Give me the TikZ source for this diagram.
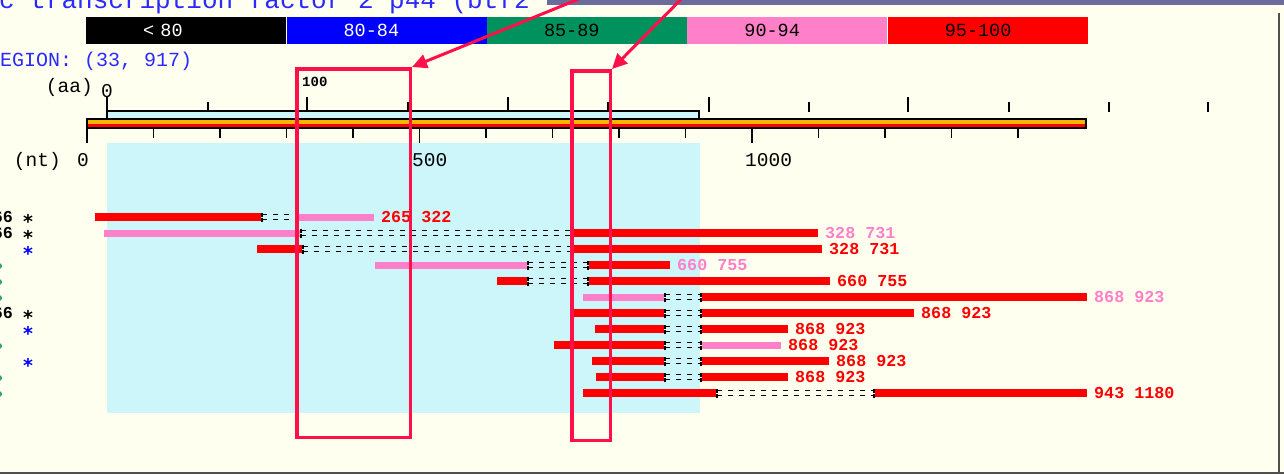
\documentclass[tikz,border=0pt]{standalone}
\usepackage{fontspec}
\setmonofont{Liberation Mono}
\newfontfamily\starfont{DejaVu Sans Mono}
\usetikzlibrary{arrows.meta,positioning}
\definecolor{paper}{HTML}{FFFFF0}
\definecolor{inkblue}{HTML}{2A2AFF}
\definecolor{bandgrey}{HTML}{6C6C9C}
\definecolor{framegrey}{HTML}{505050}
\definecolor{keyblue}{HTML}{0000FF}
\definecolor{keygreen}{HTML}{00925E}
\definecolor{hitpink}{HTML}{FF80C8}
\definecolor{hitred}{HTML}{FF0000}
\definecolor{zonecyan}{HTML}{CDF6FA}
\definecolor{barorange}{HTML}{F8B400}
\definecolor{annored}{HTML}{FF1048}
\definecolor{sidegreen}{HTML}{30A07A}

\begin{document}
\begin{tikzpicture}[x=1pt,y=-1pt,
  keycell/.style={minimum height=27pt,inner xsep=57pt,inner ysep=0pt,text width=86pt,align=left,
    font=\ttfamily\fontsize{18.5}{20}\selectfont},
  axislabel/.style={font=\ttfamily\fontsize{19.5}{20}\selectfont,inner sep=0pt},
  hitlabel/.style={font=\ttfamily\bfseries\fontsize{16.7}{18}\selectfont,inner sep=0pt},
  markstar/.style={font=\starfont\bfseries\fontsize{19}{19}\selectfont,inner sep=0pt,anchor=base,yshift=-11.5pt},
  tickline/.style={black,line width=1.6pt},
  redbar/.style={draw=hitred,line width=8pt},
  pinkbar/.style={draw=hitpink,line width=7pt},
  gapdash/.style={draw=black,line width=1.7pt,dash pattern=on 5pt off 6pt,{Bar[width=4pt]}-{Bar[width=4pt]}},
  gapline/.style={preaction={gapdash,transform canvas={yshift=2.5pt}},
    postaction={gapdash,transform canvas={yshift=-2.5pt}}},
  annobox/.style={draw=annored,line width=3.5pt,inner sep=0pt},
  annoarrow/.style={draw=annored,line width=3pt,-{Triangle[length=15pt,width=14pt]}}]

  \useasboundingbox (0,0) rectangle (1284,474);
  \fill[paper] (0,0) rectangle (1284,474);
  \fill[zonecyan] (107,143) rectangle (700,413);

  % heading and frame
  \node[font=\ttfamily\fontsize{26}{26}\selectfont,text=inkblue,inner sep=0pt,anchor=base west] (title) at (-1,8) {c transcription factor 2 p44 (btf2};
  \fill[bandgrey] (547,0) rectangle (1284,5);
  \draw[framegrey,line width=1.8pt] (1279,13) -- (1279,474);
  \fill[framegrey] (0,471.5) rectangle (1284,474);

  % colour key
  \node[keycell,fill=black,text=white,anchor=west] (k80) at (86,30.5) {< 80};
  \node[keycell,fill=keyblue,text=white,right=0pt of k80] (k84) {80-84};
  \node[keycell,fill=keygreen,right=0pt of k84] (k89) {85-89};
  \node[keycell,fill=hitpink,right=0pt of k89] (k94) {90-94};
  \node[keycell,fill=hitred,right=0pt of k94] (k100) {95-100};

  \node[font=\ttfamily\fontsize{20}{20}\selectfont,text=inkblue,inner sep=0pt,anchor=base west] (region) at (-12,66) {REGION: (33, 917)};

  % amino acid scale
  \node[axislabel,anchor=base east] (aalab) at (93,92) {(aa)};
  \node[axislabel,anchor=base] (aa0) at (107,97) {0};
  \node[font=\ttfamily\bfseries\fontsize{14}{14}\selectfont,inner sep=0pt,anchor=base west] (aa100) at (302,86) {100};
  \draw[tickline] (107,97) -- (107,112) (307,97) -- (307,112) (508,97) -- (508,112)
    (709,97) -- (709,112) (908,97) -- (908,112)
    (208,102) -- (208,112) (408,102) -- (408,112) (608,102) -- (608,112) (809,102) -- (809,112)
    (1009,102) -- (1009,112) (1109,102) -- (1109,112) (1208,102) -- (1208,112);
  \draw[fill=zonecyan,line width=1.5pt] (107,111) rectangle (699,119);

  % nucleotide scale
  \fill[barorange] (87,119) rectangle (1086,128);
  \fill[hitred] (87,123.5) rectangle (1086,126.5);
  \draw[line width=1.5pt] (87,119) rectangle (1086,128);
  \draw[tickline] (87,128) -- (87,143) (419.5,128) -- (419.5,143) (752,128) -- (752,143)
    (153.5,128) -- (153.5,138) (220,128) -- (220,138) (286.5,128) -- (286.5,138) (353,128) -- (353,138)
    (486,128) -- (486,138) (552.5,128) -- (552.5,138) (619,128) -- (619,138) (685.5,128) -- (685.5,138)
    (818.5,128) -- (818.5,138) (885,128) -- (885,138) (951.5,128) -- (951.5,138) (1018,128) -- (1018,138);
  \node[axislabel,anchor=base east] (ntlab) at (61,166) {(nt)};
  \node[axislabel,anchor=base] (nt0) at (83,166) {0};
  \node[axislabel,anchor=base west] (nt500) at (412,166) {500};
  \node[axislabel,anchor=base west] (nt1000) at (745,166) {1000};

  % left column
  \node[hitlabel,anchor=east] (s1) at (13,217) {66};
  \node[hitlabel,anchor=east] (s2) at (13,233) {66};
  \node[hitlabel,anchor=east] (s7) at (13,313) {66};
  \node[markstar] (m1) at (28,217) {*};
  \node[markstar] (m2) at (28,233) {*};
  \node[markstar,text=keyblue] (m3) at (28,249) {*};
  \node[markstar] (m7) at (28,313) {*};
  \node[markstar,text=keyblue] (m8) at (28,329) {*};
  \node[markstar,text=keyblue] (m10) at (28,361) {*};
  \fill[sidegreen] (-1,266) circle (3) (-1,282) circle (3) (-1,298) circle (3)
    (-1,346) circle (3) (-1,378) circle (3) (-1,394) circle (3);

  % hits
  \draw[redbar] (95,217) -- (261,217);
  \path[gapline] (261,217) -- (298,217);
  \draw[pinkbar] (298,217) -- (374,217) coordinate (e1);
  \node[hitlabel,text=hitred,right=7pt of e1] (h1) {265 322};

  \draw[pinkbar] (104,233) -- (300,233);
  \path[gapline] (300,233) -- (572,233);
  \draw[redbar] (572,233) -- (818,233) coordinate (e2);
  \node[hitlabel,text=hitpink,right=7pt of e2] (h2) {328 731};

  \draw[redbar] (257,249) -- (302,249);
  \path[gapline] (302,249) -- (572,249);
  \draw[redbar] (572,249) -- (822,249) coordinate (e3);
  \node[hitlabel,text=hitred,right=7pt of e3] (h3) {328 731};

  \draw[pinkbar] (375,265) -- (527,265);
  \path[gapline] (527,265) -- (589,265);
  \draw[redbar] (589,265) -- (670,265) coordinate (e4);
  \node[hitlabel,text=hitpink,right=7pt of e4] (h4) {660 755};

  \draw[redbar] (497,281) -- (527,281);
  \path[gapline] (527,281) -- (589,281);
  \draw[redbar] (589,281) -- (830,281) coordinate (e5);
  \node[hitlabel,text=hitred,right=7pt of e5] (h5) {660 755};

  \draw[pinkbar] (583,297) -- (664,297);
  \path[gapline] (664,297) -- (702,297);
  \draw[redbar] (702,297) -- (1087,297) coordinate (e6);
  \node[hitlabel,text=hitpink,right=7pt of e6] (h6) {868 923};

  \draw[redbar] (573,313) -- (664,313);
  \path[gapline] (664,313) -- (702,313);
  \draw[redbar] (702,313) -- (914,313) coordinate (e7);
  \node[hitlabel,text=hitred,right=7pt of e7] (h7) {868 923};

  \draw[redbar] (595,329) -- (664,329);
  \path[gapline] (664,329) -- (702,329);
  \draw[redbar] (702,329) -- (788,329) coordinate (e8);
  \node[hitlabel,text=hitred,right=7pt of e8] (h8) {868 923};

  \draw[redbar] (554,345) -- (664,345);
  \path[gapline] (664,345) -- (702,345);
  \draw[pinkbar] (702,345) -- (781,345) coordinate (e9);
  \node[hitlabel,text=hitred,right=7pt of e9] (h9) {868 923};

  \draw[redbar] (592,361) -- (664,361);
  \path[gapline] (664,361) -- (702,361);
  \draw[redbar] (702,361) -- (829,361) coordinate (e10);
  \node[hitlabel,text=hitred,right=7pt of e10] (h10) {868 923};

  \draw[redbar] (596,377) -- (664,377);
  \path[gapline] (664,377) -- (702,377);
  \draw[redbar] (702,377) -- (788,377) coordinate (e11);
  \node[hitlabel,text=hitred,right=7pt of e11] (h11) {868 923};

  \draw[redbar] (583,393) -- (716,393);
  \path[gapline] (716,393) -- (875,393);
  \draw[redbar] (875,393) -- (1087,393) coordinate (e12);
  \node[hitlabel,text=hitred,right=7pt of e12] (h12) {943 1180};

  % call-outs
  \node[annobox,minimum width=113.5pt,minimum height=368.5pt] (boxA) at (353.5,253) {};
  \node[annobox,minimum width=38.5pt,minimum height=369.5pt] (boxB) at (591,255.5) {};
  \coordinate (srcA) at (650,-30);
  \coordinate (srcB) at (710,-30);
  \draw[annoarrow] (srcA) -- (boxA.north east);
  \draw[annoarrow] (srcB) -- (boxB.north east);
\end{tikzpicture}
\end{document}
